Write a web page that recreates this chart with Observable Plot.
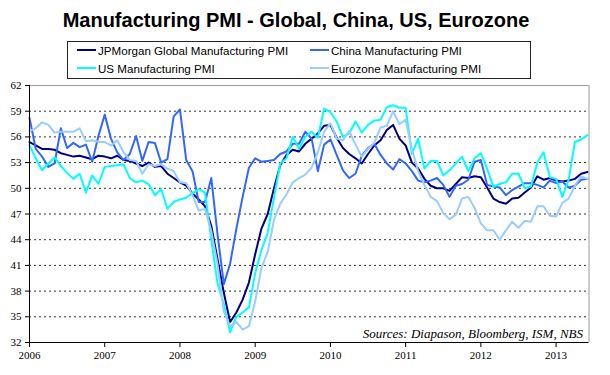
<!DOCTYPE html>
<html><head><meta charset="utf-8">
<script src="https://cdn.jsdelivr.net/npm/d3@7"></script>
<script src="https://cdn.jsdelivr.net/npm/@observablehq/plot@0.6"></script>
<style>
html,body{margin:0;padding:0;background:#fff;}
#wrap{position:relative;width:610px;height:375px;overflow:hidden;}
#title{position:absolute;left:-9px;top:9px;width:610px;text-align:center;font:bold 20px "Liberation Sans",Arial,sans-serif;color:#000;white-space:nowrap;}
#legend{position:absolute;left:67px;top:41px;width:464px;height:38px;border:1px solid #222;box-sizing:border-box;font:11.6px "Liberation Sans",Arial,sans-serif;color:#000;}
.item{position:absolute;display:flex;align-items:center;height:14px;white-space:nowrap;}
.sw{width:19px;height:2px;margin-right:2px;}
#chart{position:absolute;left:0;top:78px;}
</style></head>
<body>
<div id="wrap">
  <div id="title"></div>
  <div id="legend"></div>
  <div id="chart"></div>
</div>
<script>
// Monthly data, April 2006 .. September 2013 (index 0..89)
const titleText = "Manufacturing PMI - Global, China, US, Eurozone";
const sourceText = "Sources: Diapason, Bloomberg, ISM, NBS";
const yearLabels = ["2006","2007","2008","2009","2010","2011","2012","2013"];
const yTicks = [32,35,38,41,44,47,50,53,56,59,62];

const seriesNames = ["JPMorgan Global Manufacturing PMI","China Manufacturing PMI","US Manufacturing PMI","Eurozone Manufacturing PMI"];
const seriesColors = ["#000080","#3366ff","#00ffff","#99ccff"];

const globalPMI = [55.4,55.0,54.6,54.6,54.5,54.1,53.9,53.7,53.8,53.6,53.4,53.8,53.7,53.5,53.8,53.3,53.2,52.9,52.6,53.0,
 52.5,52.6,51.7,51.2,50.7,50.3,49.4,48.7,47.9,45.6,41.7,37.8,34.4,35.5,37.0,39.0,42.3,45.3,47.0,50.0,
 52.7,53.9,54.5,54.3,55.2,55.8,56.4,57.3,57.4,55.9,54.7,54.0,53.5,52.9,54.0,55.0,55.6,56.8,57.4,55.8,
 55.0,53.0,52.3,51.1,50.3,50.0,50.0,49.7,50.5,51.3,51.2,51.4,51.3,50.1,48.8,48.4,48.2,48.8,48.9,49.5,
 50.1,51.4,51.0,51.2,50.9,50.8,50.9,51.1,51.7,51.9];
const chinaPMI = [58.2,54.6,53.7,52.5,52.9,57.0,54.7,55.3,54.8,55.1,53.1,56.1,58.6,55.8,54.2,53.3,54.0,56.1,53.2,55.4,
 55.3,53.0,53.4,58.4,59.2,53.3,52.0,48.4,48.4,51.2,44.6,38.8,41.2,45.3,49.0,52.4,53.5,53.1,53.2,53.3,
 54.0,54.3,55.2,55.2,56.6,55.8,52.0,55.1,55.7,53.9,52.1,51.2,51.7,53.8,54.7,55.2,53.9,52.9,52.2,53.4,
 52.9,52.0,50.9,50.7,50.9,51.2,50.4,49.0,50.3,50.5,51.0,53.1,53.3,50.4,50.2,50.1,49.2,49.8,50.2,50.6,
 50.6,50.4,50.1,50.9,50.6,50.8,50.1,50.3,51.0,51.1];
const usPMI = [55.0,53.5,52.1,52.9,53.6,52.6,51.8,51.1,51.7,49.5,51.5,50.5,52.5,52.6,52.7,52.8,51.2,50.7,50.9,50.5,
 49.2,49.9,47.6,48.4,48.7,48.9,49.4,49.9,49.5,44.0,38.9,36.5,33.2,35.0,35.5,36.1,40.1,42.8,44.8,48.9,
 52.9,53.5,56.0,54.6,56.0,56.6,55.9,59.3,58.9,57.8,56.0,56.4,57.8,56.5,57.4,57.9,58.0,59.5,59.7,59.4,
 59.4,54.0,55.8,52.3,53.2,53.2,51.5,52.1,52.9,53.7,52.0,53.5,54.1,52.3,50.2,50.5,50.7,51.7,51.7,50.0,
 50.2,53.0,54.2,51.3,51.1,49.0,51.0,55.4,55.7,56.2];
const eurozonePMI = [56.7,57.0,57.7,57.4,56.5,56.6,56.6,56.6,57.0,55.5,55.6,55.4,55.4,55.0,55.6,54.2,53.3,53.2,51.7,52.8,
 52.6,52.8,52.3,52.0,50.7,50.6,49.2,47.4,47.6,45.0,41.1,35.6,33.9,34.4,33.5,33.9,36.8,40.7,42.6,46.3,
 48.2,49.3,50.7,51.2,51.6,52.4,54.2,56.6,57.6,55.8,55.6,56.7,55.1,53.7,54.6,55.3,57.1,57.3,59.0,57.5,
 58.0,54.6,52.0,50.4,49.0,48.5,47.1,46.4,46.9,48.8,49.0,47.7,45.9,45.1,45.1,44.0,45.1,46.1,45.4,46.2,
 46.1,47.9,47.9,46.8,46.7,48.3,48.8,50.3,51.4,51.1];

const seriesValues = [globalPMI, chinaPMI, usPMI, eurozonePMI];

document.getElementById("title").textContent = titleText;

// legend
const legend = document.getElementById("legend");
const legendPos = [[9,1],[242,1],[9,19],[242,19]];
seriesNames.forEach((name, k) => {
  const it = document.createElement("div");
  it.className = "item";
  it.style.left = legendPos[k][0] + "px";
  it.style.top = legendPos[k][1] + "px";
  const sw = document.createElement("span");
  sw.className = "sw";
  sw.style.background = seriesColors[k];
  const tx = document.createElement("span");
  tx.textContent = name;
  it.appendChild(sw); it.appendChild(tx);
  legend.appendChild(it);
});

const xMax = 89.25;
const gridVals = yTicks.filter(v => v !== 32 && v !== 62);
const xTickIdx = yearLabels.map((_, k) => k * 12);

const chart = Plot.plot({
  width: 610,
  height: 297,
  marginTop: 7,
  marginLeft: 29,
  marginRight: 21.5,
  marginBottom: 33,
  x: {domain: [0, xMax]},
  y: {domain: [32, 62]},
  style: {fontFamily: '"Liberation Serif", "Times New Roman", serif', fontSize: "11px", color: "#000", background: "transparent"},
  marks: [
    Plot.ruleY(gridVals, {stroke: "#333", strokeDasharray: "2,3", strokeWidth: 1}),
    Plot.ruleY([62], {stroke: "#999"}),
    Plot.ruleX([xMax], {stroke: "#999"}),
    ...seriesValues.map((vals, k) => Plot.lineY(vals, {stroke: seriesColors[k], strokeWidth: 2, strokeLinejoin: "round"})),
    Plot.ruleX([0], {stroke: "#000"}),
    Plot.ruleY([32], {stroke: "#000"}),
    Plot.axisY({ticks: yTicks, tickSize: 4, tickPadding: 4, label: null, tickFormat: d => String(d)}),
    Plot.axisX({ticks: xTickIdx, tickSize: 5, tickPadding: 4, label: null, tickFormat: d => yearLabels[Math.round(d / 12)]}),
    Plot.text([sourceText], {text: d => d, frameAnchor: "bottom-right", dx: -6, dy: -5, fontStyle: "italic", fontSize: 13, fill: "#000"})
  ]
});
document.getElementById("chart").appendChild(chart);
</script>
</body></html>
